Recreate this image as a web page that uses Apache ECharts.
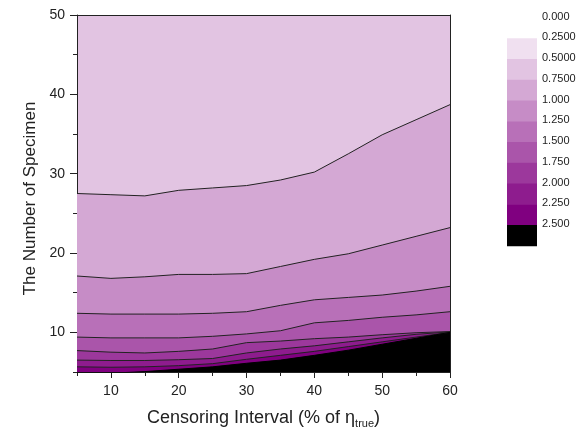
<!DOCTYPE html>
<html>
<head>
<meta charset="utf-8">
<script src="https://cdn.jsdelivr.net/npm/echarts@6/dist/echarts.min.js"></script>
<style>
  html, body { margin: 0; padding: 0; background: #fff; }
  #main { width: 588px; height: 439px; }
</style>
</head>
<body>
<div id="main"></div>
<script>
// censoring interval (% of eta_true)
var xValues = [5, 10, 15, 20, 25, 30, 35, 40, 45, 50, 55, 60];

// contour lines: number of specimen at each level
var line075 = [27.5, 27.35, 27.2, 27.9, 28.2, 28.5, 29.2, 30.2, 32.5, 34.9, 36.8, 38.7];
var line100 = [17.1, 16.8, 17.0, 17.3, 17.3, 17.4, 18.3, 19.2, 19.9, 21.0, 22.1, 23.2];
var line125 = [12.4, 12.3, 12.3, 12.3, 12.4, 12.6, 13.4, 14.1, 14.4, 14.7, 15.2, 15.8];
var line150 = [9.4, 9.3, 9.3, 9.3, 9.5, 9.8, 10.2, 11.2, 11.5, 11.9, 12.2, 12.6];
var line175 = [7.7, 7.5, 7.4, 7.6, 7.9, 8.7, 8.9, 9.2, 9.4, 9.7, 9.95, 10.1];
var line200 = [6.5, 6.45, 6.45, 6.55, 6.7, 7.4, 7.9, 8.3, 8.8, 9.3, 9.75, 10.05];
var line225 = [5.65, 5.6, 5.65, 5.8, 6.05, 6.6, 7.1, 7.6, 8.2, 8.8, 9.4, 10.0];
var line250 = [4.6, 4.85, 5.05, 5.35, 5.65, 6.1, 6.5, 7.1, 7.75, 8.5, 9.25, 10.0];

// colour scale, one colour per band (0-0.25 ... >2.5)
var bandColors = ['#FFFFFF', '#F0E0F0', '#E2C4E2', '#D4A8D4', '#C68CC6', '#B870B8',
                  '#AA55AA', '#9C389C', '#8E1C8E', '#800080', '#000000'];
var legendLabels = ['0.000', '0.2500', '0.5000', '0.7500', '1.000', '1.250',
                    '1.500', '1.750', '2.000', '2.250', '2.500'];

var xMajor = [10, 20, 30, 40, 50, 60];
var xMinor = [5, 15, 25, 35, 45, 55];
var yMajor = [10, 20, 30, 40, 50];
var yMinor = [5, 15, 25, 35, 45];

var font = 'Liberation Sans, Arial, sans-serif';
var chart = echarts.init(document.getElementById('main'));

// lines from top (0.75) to bottom (2.5), each one fills the band below it
var lines = [line075, line100, line125, line150, line175, line200, line225, line250];
var series = [];
for (var i = 0; i < lines.length; i++) {
  var arr = lines[i];
  series.push({
    type: 'line',
    symbol: 'none',
    silent: true,
    clip: true,
    data: xValues.map(function (x, k) { return [x, arr[k]]; }),
    lineStyle: { color: i == lines.length - 1 ? '#000' : '#222', width: 1 },
    areaStyle: { color: bandColors[i + 3], opacity: 1, origin: 'start' }
  });
}

// colour bar on the right
var graphics = [];
var barTop = 17.5, cellH = 20.75;
for (var j = 0; j < bandColors.length; j++) {
  graphics.push({
    type: 'rect',
    shape: { x: 507, y: barTop + j * cellH, width: 30, height: cellH + 0.5 },
    style: { fill: bandColors[j] },
    silent: true
  });
  graphics.push({
    type: 'text',
    x: 542,
    y: barTop + j * cellH - 1,
    style: {
      text: legendLabels[j],
      font: '11px ' + font,
      fill: '#222',
      verticalAlign: 'middle'
    },
    silent: true
  });
}

var option = {
  animation: false,
  backgroundColor: '#fff',
  grid: {
    left: 77, right: 138, top: 15, bottom: 67,
    show: true, backgroundColor: '#E2C4E2', borderWidth: 0
  },
  xAxis: [
    {
      type: 'value', min: 5, max: 60, position: 'bottom',
      name: '{a|Censoring Interval (% of η}{b|true}{a|)}',
      nameLocation: 'middle', nameGap: 35,
      nameTextStyle: {
        rich: {
          a: { fontSize: 18, fontFamily: font, color: '#222', lineHeight: 22 },
          b: { fontSize: 11, fontFamily: font, color: '#222', lineHeight: 11, verticalAlign: 'bottom' }
        }
      },
      axisLine: { lineStyle: { color: '#222', width: 1 } },
      axisTick: { customValues: xMajor, length: 6, lineStyle: { color: '#222' } },
      axisLabel: { customValues: xMajor, fontSize: 14, fontFamily: font, color: '#222', margin: 12 },
      splitLine: { show: false }
    },
    {
      type: 'value', min: 5, max: 60, position: 'bottom',
      axisLine: { show: false },
      axisTick: { customValues: xMinor, length: 4, lineStyle: { color: '#222' } },
      axisLabel: { show: false },
      splitLine: { show: false }
    },
    {
      type: 'value', min: 5, max: 60, position: 'top',
      axisLine: { lineStyle: { color: '#222', width: 1 } },
      axisTick: { show: false }, axisLabel: { show: false }, splitLine: { show: false }
    }
  ],
  yAxis: [
    {
      type: 'value', min: 5, max: 50, position: 'left',
      name: 'The Number of Specimen',
      nameLocation: 'middle', nameGap: 32,
      nameTextStyle: { fontSize: 17, fontFamily: font, color: '#222', padding: [0, 10, 0, 0] },
      axisLine: { show: true, lineStyle: { color: '#222', width: 1 } },
      axisTick: { show: true, customValues: yMajor, length: 7, lineStyle: { color: '#222' } },
      axisLabel: { customValues: yMajor, fontSize: 14, fontFamily: font, color: '#222', margin: 12 },
      splitLine: { show: false }
    },
    {
      type: 'value', min: 5, max: 50, position: 'left',
      axisLine: { show: false },
      axisTick: { show: true, customValues: yMinor, length: 4, lineStyle: { color: '#222' } },
      axisLabel: { show: false },
      splitLine: { show: false }
    },
    {
      type: 'value', min: 5, max: 50, position: 'right',
      axisLine: { show: true, lineStyle: { color: '#222', width: 1 } },
      axisTick: { show: false }, axisLabel: { show: false }, splitLine: { show: false }
    }
  ],
  series: series,
  graphic: graphics
};

chart.setOption(option);
</script>
</body>
</html>
